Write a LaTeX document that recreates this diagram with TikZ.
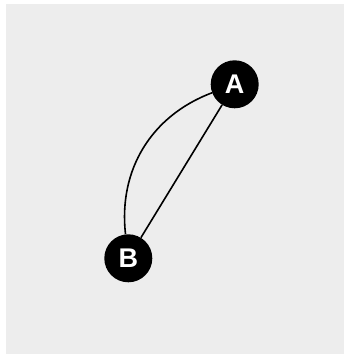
\documentclass[tikz,border=0pt]{standalone}
\usepackage{fontspec}
\setmainfont{Liberation Sans}
\definecolor{bg}{RGB}{237,237,237}
\tikzset{
  vertex/.style={circle,fill=black,minimum size=48pt,inner sep=0pt,text=white,font=\fontsize{27}{27}\selectfont\bfseries},
  link/.style={line width=1.6pt,draw=black}
}
\begin{document}
\begin{tikzpicture}[x=1pt,y=1pt]
\useasboundingbox (0,0) rectangle (344,359);
\fill[white] (0,0) rectangle (344,359);
\fill[bg] (6,5) rectangle (344,355);
\node[vertex] (A) at (234.7,274.7) {A};
\node[vertex] (B) at (128.3,100.7) {B};
\draw[link] (A) to[bend right=38] (B);
\draw[link] (A) -- (B);
\end{tikzpicture}
\end{document}
